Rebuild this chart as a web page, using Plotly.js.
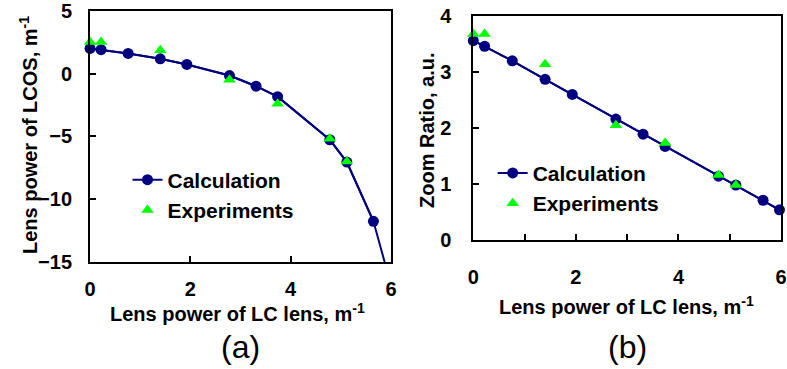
<!DOCTYPE html>
<html><head><meta charset="utf-8">
<script src="https://cdn.plot.ly/plotly-3.0.1.min.js"></script>
<style>html,body{margin:0;padding:0;background:#fff}#chart{width:787px;height:369px}</style>
</head><body><div id="chart"></div>
<script>
// LC lens power (x) shared by both panels
const lcPowerCalc = [0, 0.22, 0.76, 1.40, 1.93, 2.78, 3.31, 3.74, 4.78, 5.12, 5.65, 5.97];
const lcosPowerCalc = [2.0, 1.9, 1.6, 1.17, 0.72, -0.16, -1.01, -1.84, -5.27, -7.05, -11.76, -16.4];
const zoomRatioCalc = [3.56, 3.46, 3.2, 2.87, 2.60, 2.16, 1.89, 1.67, 1.14, 0.98, 0.71, 0.54];
const lcPowerExp = [0, 0.22, 1.40, 2.78, 3.74, 4.78, 5.12];
const lcosPowerExp = [2.5, 2.5, 1.85, -0.5, -2.4, -5.2, -7.0];
const zoomRatioExp = [3.68, 3.68, 3.14, 2.05, 1.73, 1.16, 0.98];
const seriesNames = ['Calculation', 'Experiments'];
const xTitle = 'Lens power of LC lens, m<sup>-1</sup>';
const yTitleA = 'Lens power of LCOS, m<sup>-1</sup>';
const yTitleB = 'Zoom Ratio, a.u.';
const panelLabels = ['(a)', '(b)'];

const navy = '#000080', lime = '#00FF00';
const FONT = 'Liberation Sans, Arial, sans-serif';
const yRangeA = [-15, 5], yRangeB = [0, 4], xRange = [0, 6];

// full calculated curve as a clipped line, plus the in-range points as markers (unclipped)
function calcTraces(xs, ys, yr, xa, ya, lg) {
  const keep = ys.map((v, i) => v >= yr[0] && v <= yr[1] && xs[i] <= xRange[1]);
  const line = {x: xs, y: ys, mode: 'lines', xaxis: xa, yaxis: ya, showlegend: false, hoverinfo: 'skip',
    line: {color: navy, width: 2}};
  const pts = {x: xs.filter((_, i) => keep[i]), y: ys.filter((_, i) => keep[i]), name: seriesNames[0],
    mode: 'lines+markers', cliponaxis: false, xaxis: xa, yaxis: ya, legend: lg,
    line: {color: navy, width: 2}, marker: {color: navy, size: 11, symbol: 'circle'}};
  return [line, pts];
}
function expTrace(xs, ys, xa, ya, lg) {
  return {x: xs, y: ys, name: seriesNames[1], mode: 'markers', cliponaxis: false, xaxis: xa, yaxis: ya, legend: lg,
    marker: {color: lime, size: 11, symbol: 'triangle-up'}};
}

const data = [
  ...calcTraces(lcPowerCalc, lcosPowerCalc, yRangeA, 'x', 'y', 'legend'),
  expTrace(lcPowerExp, lcosPowerExp, 'x', 'y', 'legend'),
  ...calcTraces(lcPowerCalc, zoomRatioCalc, yRangeB, 'x2', 'y2', 'legend2'),
  expTrace(lcPowerExp, zoomRatioExp, 'x2', 'y2', 'legend2')
];

const tickFont = {family: FONT, size: 20, color: '#000', weight: 'bold'};
const titleFont = {family: FONT, size: 20, color: '#000', weight: 'bold'};
function ax(extra) {
  return Object.assign({
    showline: true, linecolor: '#000', linewidth: 2, mirror: true,
    ticks: 'inside', ticklen: 6, tickwidth: 2, tickcolor: '#000', ticklabeloverflow: 'allow',
    showgrid: false, zeroline: false, tickfont: tickFont, fixedrange: true
  }, extra);
}

const layout = {
  width: 787, height: 369,
  margin: {l: 0, r: 0, t: 0, b: 0},
  paper_bgcolor: '#fff', plot_bgcolor: '#fff',
  font: {family: FONT, color: '#000'},
  xaxis: ax({domain: [0.1144, 0.4968], range: xRange, dtick: 2, anchor: 'y', ticklabelstandoff: 8}),
  yaxis: ax({domain: [0.29, 0.971], range: yRangeA, dtick: 5, anchor: 'x', ticklabelstandoff: 12}),
  xaxis2: ax({domain: [0.6014, 0.9924], range: xRange, dtick: 2, anchor: 'y2', ticklabelstandoff: 18,
    minor: {dtick: 1, ticks: 'inside', ticklen: 6, tickwidth: 2, tickcolor: '#000'}}),
  yaxis2: ax({domain: [0.3496, 0.9566], range: yRangeB, dtick: 1, anchor: 'x2', ticklabelstandoff: 16}),
  showlegend: true,
  legend: {x: 0.162, y: 0.4715, xanchor: 'left', yanchor: 'middle', bgcolor: 'rgba(0,0,0,0)',
    font: {family: FONT, size: 21, color: '#000', weight: 'bold'}, tracegroupgap: 0, itemclick: false},
  legend2: {x: 0.626, y: 0.4897, xanchor: 'left', yanchor: 'middle', bgcolor: 'rgba(0,0,0,0)',
    font: {family: FONT, size: 21, color: '#000', weight: 'bold'}, tracegroupgap: 0, itemclick: false},
  annotations: [
    {text: xTitle, x: 237.5, y: 312, font: titleFont},
    {text: xTitle, x: 626, y: 305, font: titleFont},
    {text: yTitleA, x: 28, y: 135, textangle: -90, font: titleFont},
    {text: yTitleB, x: 427, y: 130, textangle: -90, font: titleFont},
    {text: panelLabels[0], x: 240, y: 347, font: {family: FONT, size: 32, color: '#000'}},
    {text: panelLabels[1], x: 627.5, y: 347, font: {family: FONT, size: 32, color: '#000'}}
  ]
};
// annotation positions above are given in page pixels; convert to paper fractions
layout.annotations.forEach(a => {
  a.x = a.x / 787; a.y = 1 - a.y / 369;
  a.xref = 'paper'; a.yref = 'paper'; a.showarrow = false;
  a.xanchor = 'center'; a.yanchor = 'middle';
});

Plotly.newPlot('chart', data, layout, {displayModeBar: false, staticPlot: true});
</script></body></html>
